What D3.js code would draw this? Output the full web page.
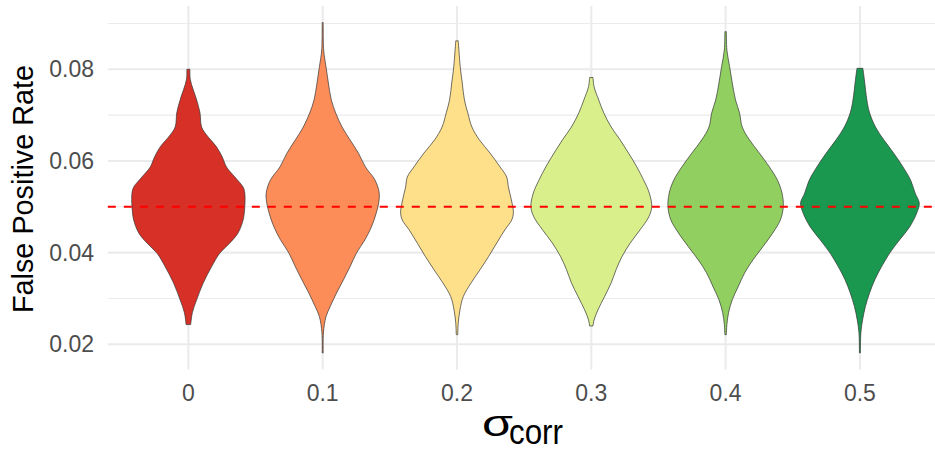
<!DOCTYPE html>
<html>
<head>
<meta charset="utf-8">
<script src="https://cdn.jsdelivr.net/npm/d3@7"></script>
<style>
  html, body { margin: 0; padding: 0; background: #fff; }
  svg { display: block; }
  text { font-family: "Liberation Sans", Arial, Helvetica, sans-serif; }
</style>
</head>
<body>
<svg id="chart" width="935" height="453"></svg>
<script>
// ---------------- data ----------------
const categories = ["0", "0.1", "0.2", "0.3", "0.4", "0.5"];
const colors = ["#D73027", "#FC8D59", "#FEE08B", "#D9EF8B", "#91CF60", "#1A9850"];
const yMajorTicks = [0.02, 0.04, 0.06, 0.08];
const yMinorTicks = [0.03, 0.05, 0.07, 0.09];
const yTickLabels = ["0.02", "0.04", "0.06", "0.08"];
const referenceRate = 0.05;

// violin outlines: [false positive rate, relative density]
const violin_0 = [[0.0800,0.025],[0.0777,0.033],[0.0733,0.137],[0.0705,0.192],[0.0674,0.219],[0.0652,0.329],
  [0.0631,0.465],[0.0609,0.559],[0.0587,0.630],[0.0565,0.768],[0.0543,0.905],[0.0530,0.933],[0.0500,0.933],
  [0.0471,0.905],[0.0443,0.822],[0.0421,0.686],[0.0399,0.521],[0.0369,0.383],[0.0334,0.247],[0.0297,0.137],
  [0.0269,0.066],[0.0243,0.038]];
const violin_1 = [[0.0902,0.008],[0.0842,0.016],[0.0806,0.054],[0.0770,0.094],[0.0733,0.143],[0.0705,0.214],
  [0.0674,0.321],[0.0646,0.452],[0.0617,0.592],[0.0587,0.707],[0.0559,0.863],[0.0532,0.933],[0.0515,0.933],
  [0.0487,0.888],[0.0456,0.806],[0.0428,0.699],[0.0399,0.559],[0.0369,0.452],[0.0341,0.345],[0.0312,0.230],
  [0.0282,0.123],[0.0260,0.054],[0.0225,0.012],[0.0181,0.008]];
const violin_2 = [[0.0862,0.021],[0.0806,0.053],[0.0770,0.087],[0.0733,0.123],[0.0705,0.178],[0.0674,0.247],
  [0.0646,0.370],[0.0617,0.548],[0.0587,0.712],[0.0565,0.822],[0.0543,0.850],[0.0515,0.900],[0.0487,0.933],
  [0.0471,0.905],[0.0450,0.794],[0.0421,0.658],[0.0391,0.521],[0.0363,0.383],[0.0334,0.234],[0.0304,0.104],
  [0.0275,0.049],[0.0247,0.021],[0.0221,0.012]];
const violin_3 = [[0.0782,0.028],[0.0762,0.046],[0.0733,0.123],[0.0705,0.206],[0.0674,0.329],[0.0646,0.477],
  [0.0617,0.617],[0.0587,0.753],[0.0559,0.863],[0.0530,0.959],[0.0500,1.000],[0.0478,0.951],[0.0450,0.809],
  [0.0421,0.645],[0.0391,0.507],[0.0363,0.411],[0.0334,0.329],[0.0304,0.219],[0.0275,0.110],[0.0253,0.046],
  [0.0240,0.028]];
const violin_4 = [[0.0882,0.012],[0.0842,0.021],[0.0806,0.066],[0.0770,0.110],[0.0733,0.164],[0.0705,0.230],
  [0.0674,0.275],[0.0646,0.395],[0.0617,0.559],[0.0587,0.724],[0.0559,0.855],[0.0530,0.933],[0.0500,0.954],
  [0.0471,0.905],[0.0443,0.781],[0.0413,0.617],[0.0384,0.452],[0.0356,0.316],[0.0325,0.206],[0.0297,0.110],
  [0.0269,0.049],[0.0243,0.021],[0.0221,0.012]];
const violin_5 = [[0.0802,0.049],[0.0777,0.074],[0.0733,0.115],[0.0705,0.160],[0.0674,0.258],[0.0646,0.395],
  [0.0617,0.559],[0.0587,0.712],[0.0559,0.836],[0.0530,0.913],[0.0508,0.982],[0.0487,0.942],[0.0456,0.822],
  [0.0428,0.658],[0.0399,0.493],[0.0369,0.357],[0.0341,0.247],[0.0312,0.160],[0.0282,0.090],[0.0253,0.044],
  [0.0225,0.016],[0.0181,0.008]];
const violins = [violin_0, violin_1, violin_2, violin_3, violin_4, violin_5];

// ---------------- layout ----------------
const W = 935, H = 453;
const panel = { left: 107.8, right: 940.5, top: 6, bottom: 369.5 };

const svg = d3.select("#chart");
svg.append("rect").attr("width", W).attr("height", H).attr("fill", "#fff");

const allVals = violins.flat().map(d => d[0]);
const ext = d3.extent(allVals);
const pad = (ext[1] - ext[0]) * 0.05;
const y = d3.scaleLinear().domain([ext[0] - pad, ext[1] + pad]).range([panel.bottom, panel.top]);
const x = d3.scalePoint().domain(categories).range([panel.left, panel.right]).padding(0.6);
const maxDens = d3.max(violins.flat(), d => d[1]);
const w = d3.scaleLinear().domain([0, maxDens]).range([0, x.step() * 0.45]);

const gridRight = Math.min(panel.right, W);

// grid
const grid = svg.append("g");
grid.selectAll("line.minor").data(yMinorTicks).join("line")
  .attr("x1", panel.left).attr("x2", gridRight)
  .attr("y1", d => y(d)).attr("y2", d => y(d))
  .attr("stroke", "#EBEBEB").attr("stroke-width", 1.1);
grid.selectAll("line.major").data(yMajorTicks).join("line")
  .attr("x1", panel.left).attr("x2", gridRight)
  .attr("y1", d => y(d)).attr("y2", d => y(d))
  .attr("stroke", "#EBEBEB").attr("stroke-width", 2.1);
grid.selectAll("line.vx").data(categories).join("line")
  .attr("x1", d => x(d)).attr("x2", d => x(d))
  .attr("y1", panel.top).attr("y2", panel.bottom)
  .attr("stroke", "#EBEBEB").attr("stroke-width", 2.1);

// violins
const g = svg.append("g");
violins.forEach((data, i) => {
  const cx = x(categories[i]);
  const sorted = data.slice().sort((a, b) => b[0] - a[0]);
  const area = d3.area()
    .y(d => y(d[0]))
    .x0(d => cx - w(d[1]))
    .x1(d => cx + w(d[1]))
    .curve(d3.curveCatmullRom.alpha(0.5));
  g.append("path")
    .attr("d", area(sorted))
    .attr("fill", colors[i])
    .attr("stroke", "#333333")
    .attr("stroke-width", 0.7);
});

// reference line
svg.append("line")
  .attr("x1", panel.left).attr("x2", gridRight)
  .attr("y1", y(referenceRate)).attr("y2", y(referenceRate))
  .attr("stroke", "#FF0000").attr("stroke-width", 2)
  .attr("stroke-dasharray", "8,8");

// y tick labels
svg.selectAll("text.ytick").data(yMajorTicks).join("text")
  .attr("x", 94).attr("y", d => y(d) + 8)
  .attr("text-anchor", "end")
  .attr("font-size", 23).attr("fill", "#4D4D4D")
  .text((d, i) => yTickLabels[i]);

// x tick labels
svg.selectAll("text.xtick").data(categories).join("text")
  .attr("x", d => x(d)).attr("y", 400.5)
  .attr("text-anchor", "middle")
  .attr("font-size", 23).attr("fill", "#4D4D4D")
  .text(d => d);

// y title
svg.append("text")
  .attr("transform", "translate(33.3," + 189 + ") rotate(-90)")
  .attr("text-anchor", "middle")
  .attr("font-size", 28.8).attr("fill", "#000")
  .text("False Positive Rate");

// x title: sigma with subscript "corr"
svg.append("text")
  .attr("x", 482).attr("y", 436)
  .attr("font-size", 37).attr("fill", "#000")
  .attr("textLength", 31).attr("lengthAdjust", "spacingAndGlyphs")
  .text("σ");
svg.append("text")
  .attr("x", 509).attr("y", 444)
  .attr("font-size", 35).attr("fill", "#000")
  .attr("textLength", 54).attr("lengthAdjust", "spacingAndGlyphs")
  .text("corr");
</script>
</body>
</html>
